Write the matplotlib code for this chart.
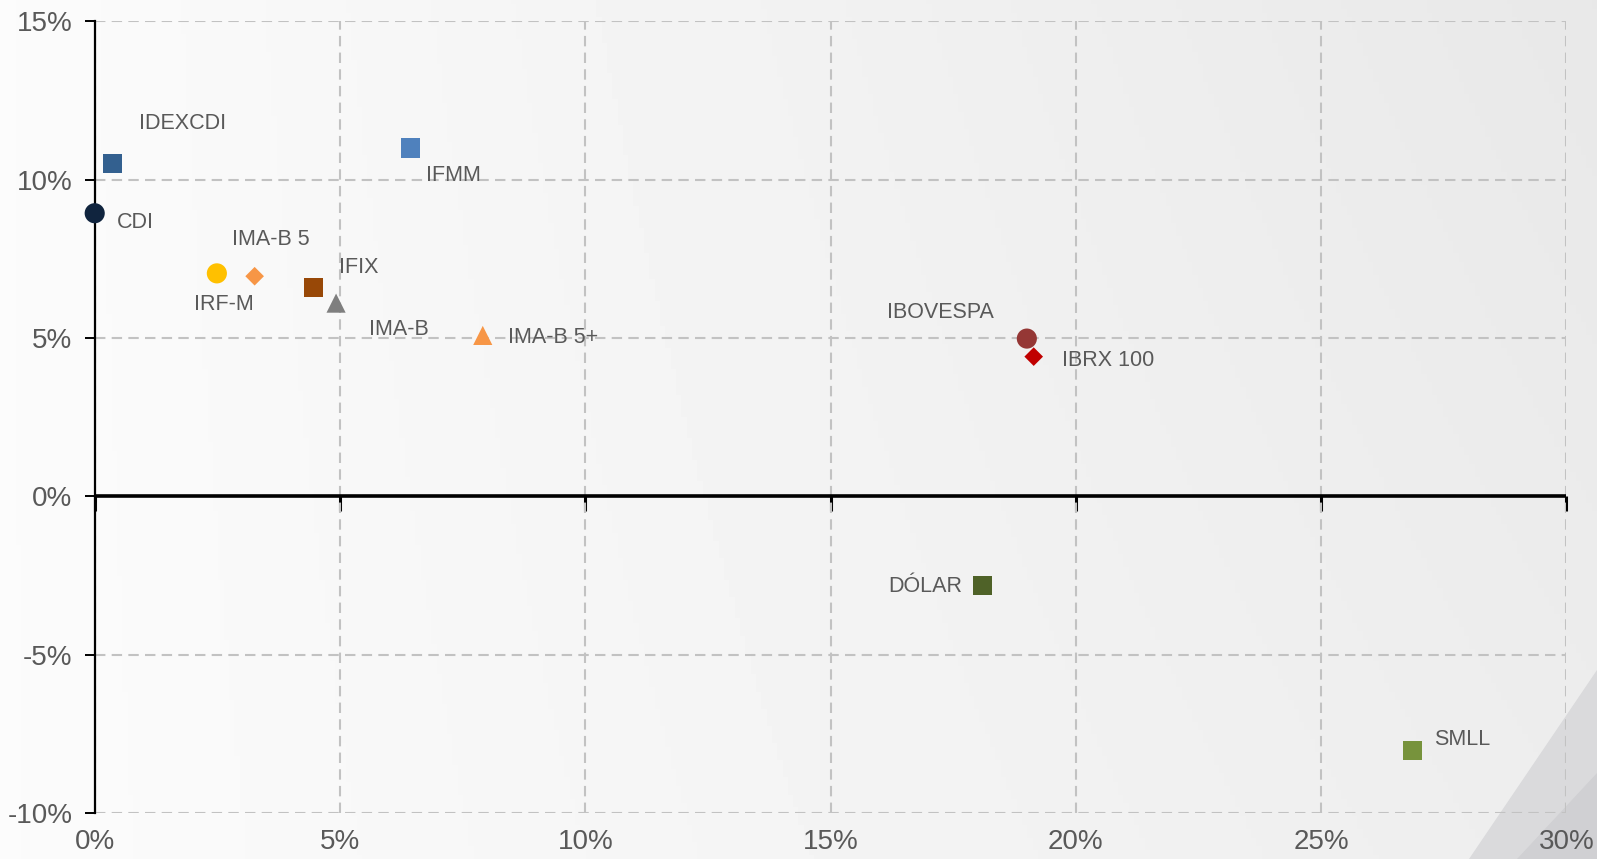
import numpy as np
import matplotlib.pyplot as plt
from matplotlib.ticker import FuncFormatter

plt.rcParams['font.family'] = ['Liberation Sans', 'DejaVu Sans']

# risk (volatility, %) vs return (%)
names = ['IDEXCDI', 'IFMM', 'CDI', 'IMA-B 5', 'IRF-M', 'IFIX', 'IMA-B',
         'IMA-B 5+', 'IBOVESPA', 'IBRX 100', 'DÓLAR', 'SMLL']
risk = [0.37, 6.44, 0.0, 3.26, 2.49, 4.46, 4.92, 7.91, 19.0, 19.14, 18.10, 26.86]
ret = [10.51, 11.0, 8.94, 6.95, 7.04, 6.59, 6.1, 5.08, 4.98, 4.41, -2.83, -8.04]

markers = ['s', 's', 'o', 'D', 'o', 's', '^', '^', 'o', 'D', 's', 's']
sizes = [190, 190, 210, 90, 210, 190, 190, 190, 210, 90, 190, 190]
colors = ['#33608F', '#4F81BD', '#10243E', '#F79646', '#FFC000', '#984807',
          '#7F7F7F', '#F79646', '#953735', '#C00000', '#4F6228', '#77933C']
# label offsets in pixels and alignment
offsets = [(26, 40, 'left'), (15, -27, 'left'), (22, -9, 'left'), (-23, 37, 'left'),
           (-23, -31, 'left'), (25, 20, 'left'), (33, -26, 'left'), (25, -2, 'left'),
           (-33, 26, 'right'), (28, -4, 'left'), (-20, -1, 'right'), (22, 11, 'left')]

xticks = [0, 5, 10, 15, 20, 25, 30]
yticks = [-10, -5, 0, 5, 10, 15]

fig = plt.figure(figsize=(15.97, 8.59), dpi=100)

# background gradient
bg = fig.add_axes([0, 0, 1, 1], zorder=0)
gx = np.linspace(0, 1, 300)
gy = np.linspace(0, 1, 200)
GX, GY = np.meshgrid(gx, gy)
shade = 0.985 - 0.055 * GX - 0.02 * GY * GX
bg.imshow(shade, cmap='gray', vmin=0, vmax=1, extent=[0, 1, 0, 1],
          aspect='auto', origin='lower')
bg.fill([0.92, 1.0, 1.0], [0.0, 0.0, 0.22], color='#dadadc', zorder=2)
bg.fill([0.95, 1.0, 1.0], [0.0, 0.0, 0.10], color='#d0d0d3', zorder=3)
bg.set_xlim(0, 1)
bg.set_ylim(0, 1)
bg.axis('off')

ax = fig.add_axes([0.0593, 0.0538, 0.9216, 0.9213], zorder=1)
ax.set_facecolor('none')
ax.set_xlim(0, 30)
ax.set_ylim(-10, 15)

ax.set_xticks(xticks)
ax.set_yticks(yticks)
pct = FuncFormatter(lambda v, p: f'{v:.0f}%')
ax.xaxis.set_major_formatter(pct)
ax.yaxis.set_major_formatter(pct)

ax.grid(True, color='#c2c2c2', linestyle=(0, (5, 3)), linewidth=1.5, zorder=0)
for s in ['top', 'right', 'bottom']:
    ax.spines[s].set_visible(False)
ax.spines['left'].set_color('black')
ax.spines['left'].set_linewidth(1.6)
ax.tick_params(axis='y', length=7, width=1.4, color='black', labelcolor='#595959',
               labelsize=20, pad=9)
ax.tick_params(axis='x', length=0, labelcolor='#595959', labelsize=20, pad=12)

# zero line with tick marks
ax.axhline(0, color='black', linewidth=2.6, zorder=3)
sec = ax.secondary_xaxis(0.4)
sec.set_xticks(xticks)
sec.tick_params(axis='x', length=11, width=2.2, labelbottom=False, color='black')
sec.spines['bottom'].set_visible(False)

for i, name in enumerate(names):
    ax.scatter(risk[i], ret[i], marker=markers[i], s=sizes[i], color=colors[i],
               edgecolors='none', zorder=5, clip_on=False)
    dx, dy, ha = offsets[i]
    ax.annotate(name, (risk[i], ret[i]), xytext=(dx, dy), textcoords='offset pixels',
                ha=ha, va='center', fontsize=15.5, color='#595959', zorder=6)

fig.savefig('out.png', dpi=100)
